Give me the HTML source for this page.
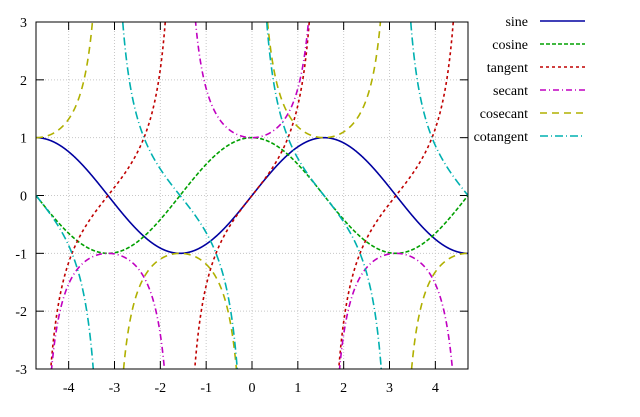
<!DOCTYPE html><html><head><style>html,body{margin:0;background:#fff;overflow:hidden;width:640px;height:417px}svg{display:block}text{font-family:"Liberation Serif",serif;font-size:14px}</style></head><body>
<svg id="s" width="640" height="417" xmlns="http://www.w3.org/2000/svg">
<defs><clipPath id="c"><rect x="36" y="22" width="432" height="347"/></clipPath></defs>
<g id="grid" stroke="#c8c8c8" stroke-width="1" stroke-dasharray="1,2"></g>
<g id="ticks" stroke="#000" stroke-width="1"></g>
<g id="lab"></g>
<g id="curves" clip-path="url(#c)" fill="none" stroke-width="1.6"></g>
<rect x="36" y="22" width="432" height="347" fill="none" stroke="#000"/>
<g id="leg"></g>
</svg>
<script>
const X0=36,X1=468,Y0=22,Y1=369,xmin=-3*Math.PI/2,xmax=3*Math.PI/2;
const sx=x=>X0+(x-xmin)/(xmax-xmin)*(X1-X0), sy=y=>Y1-(y+3)/6*(Y1-Y0);
const NS="http://www.w3.org/2000/svg";
function el(p,t,a,txt){const e=document.createElementNS(NS,t);for(const k in a)e.setAttribute(k,a[k]);if(txt!=null)e.textContent=txt;document.getElementById(p).appendChild(e);return e;}
for(let i=-4;i<=4;i++){const x=sx(i);el('grid','line',{x1:x,x2:x,y1:Y0,y2:Y1});el('ticks','line',{x1:x,x2:x,y1:Y1,y2:Y1-8});el('ticks','line',{x1:x,x2:x,y1:Y0,y2:Y0+8});el('lab','text',{x:x,y:Y1+23,'text-anchor':'middle'},i==0?'0':(i<0?'-'+(-i):''+i));}
for(let j=-3;j<=3;j++){const y=sy(j);if(j>-3&&j<3)el('grid','line',{x1:X0,x2:X1,y1:y,y2:y});el('ticks','line',{x1:X0,x2:X0+8,y1:y,y2:y});el('ticks','line',{x1:X1,x2:X1-8,y1:y,y2:y});el('lab','text',{x:27,y:y+5,'text-anchor':'end'},''+j);}
const S=[["sine",Math.sin,"#0000a0",""],["cosine",Math.cos,"#00a000","4,2"],["tangent",Math.tan,"#c00000","3,3"],["secant",x=>1/Math.cos(x),"#c000c0","6,3,1,3"],["cosecant",x=>1/Math.sin(x),"#b0b000","7,5"],["cotangent",x=>Math.cos(x)/Math.sin(x),"#00b0b0","8,3,1,3"]];
S.forEach((s,k)=>{let d="",pen=false,prev=null;for(let i=0;i<=3000;i++){const x=xmin+(xmax-xmin)*i/3000;let y=s[1](x);if(!isFinite(y)||Math.abs(y)>8||(prev!=null&&Math.abs(y-prev)>5)){pen=false;prev=isFinite(y)?y:null;if(Math.abs(y)>8)prev=null;continue;}d+=(pen?"L":"M")+sx(x).toFixed(2)+","+sy(y).toFixed(2);pen=true;prev=y;}
const a={d:d,stroke:s[2]};if(s[3])a['stroke-dasharray']=s[3];el('curves','path',a);
const ly=21+k*23;el('leg','text',{x:528,y:ly+5,'text-anchor':'end'},s[0]);const la={x1:540,x2:585,y1:ly,y2:ly,stroke:s[2],'stroke-width':1.6};if(s[3])la['stroke-dasharray']=s[3];el('leg','line',la);});
</script></body></html>
